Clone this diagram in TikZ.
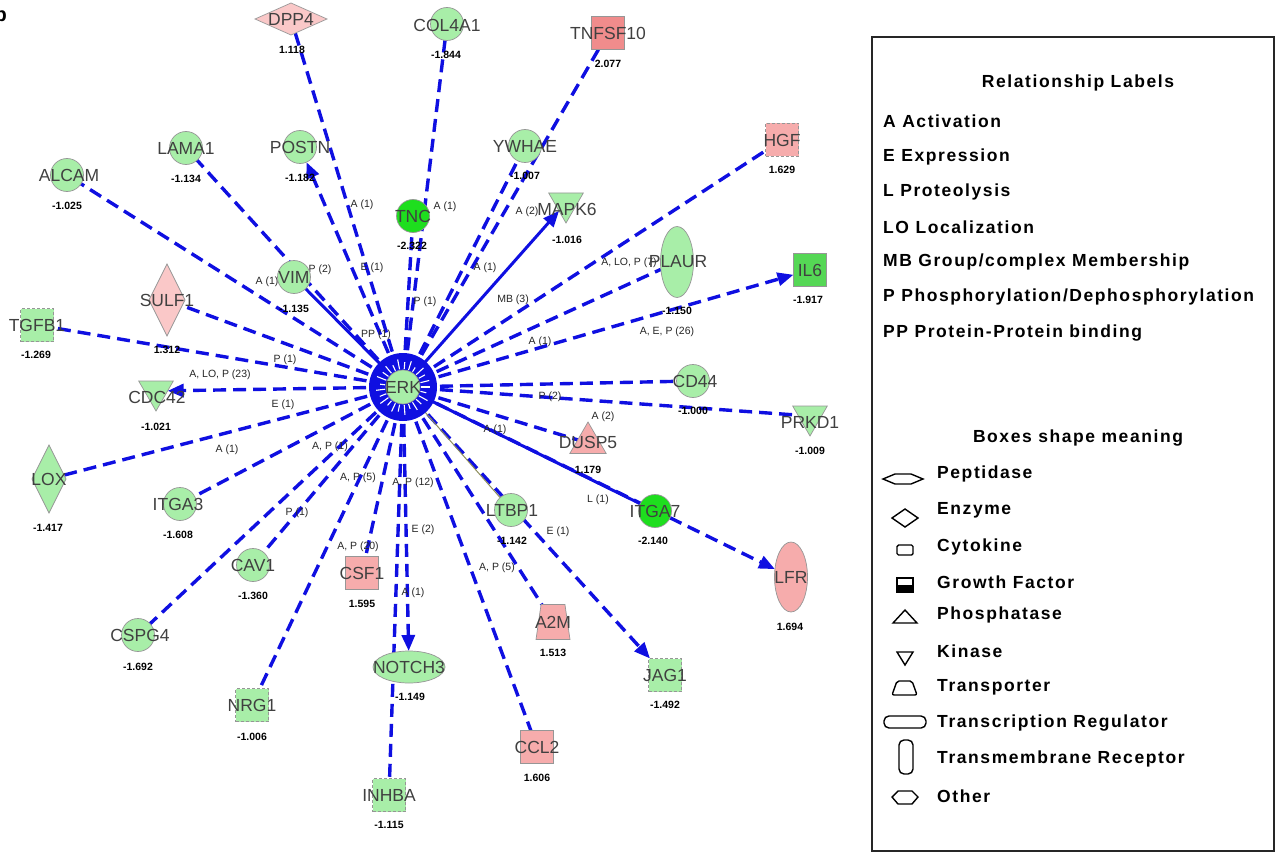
\documentclass[tikz,border=0pt]{standalone}
\usepackage{fontspec}
\setmainfont{Liberation Sans}
\newfontfamily\legfont[LetterSpace=9]{Liberation Sans}
\usetikzlibrary{arrows.meta,shapes.geometric}
\pgfdeclarelayer{edges}
\pgfsetlayers{edges,main}
\definecolor{eblue}{RGB}{15,15,225}
\definecolor{lgreen}{RGB}{168,238,168}
\definecolor{bgreen}{RGB}{30,222,30}
\definecolor{mgreen}{RGB}{85,215,85}
\definecolor{pinkA}{RGB}{250,200,200}
\definecolor{pinkB}{RGB}{246,172,172}
\definecolor{pinkC}{RGB}{240,140,140}
\definecolor{lblgray}{RGB}{64,64,64}
\definecolor{bord}{RGB}{150,150,150}
\definecolor{olivel}{RGB}{140,140,90}
\tikzset{
  gshape/.style={draw=bord, line width=0.7pt, inner sep=0pt, outer sep=0pt},
  circ/.style={gshape, circle, minimum size=33pt},
  sq/.style={gshape, rectangle, minimum width=33pt, minimum height=33pt},
  sqd/.style={sq, densely dashed},
  kin/.style={gshape, regular polygon, regular polygon sides=3, shape border rotate=180, minimum size=40pt},
  phos/.style={gshape, regular polygon, regular polygon sides=3, minimum size=42pt},
  transp/.style={gshape, trapezium, inner sep=2pt, trapezium left angle=78, trapezium right angle=78, trapezium stretches=true, minimum width=34pt, minimum height=35pt},
  ell/.style={gshape, ellipse},
  dia/.style={gshape, diamond},
  lbl/.style={font=\fontsize{17.5}{17.5}\selectfont, text=lblgray, inner sep=0pt},
  val/.style={font=\bfseries\fontsize{10.5}{11}\selectfont, inner sep=0pt},
  elbl/.style={font=\fontsize{10.5}{10.5}\selectfont, text=black!85, inner sep=0pt},
  rel/.style={draw=eblue, line width=3.4pt, dash pattern=on 13pt off 7pt},
  relsolid/.style={draw=eblue, line width=3pt},
  arr/.style={-{Triangle[length=16pt,width=13pt]}},
  legt/.style={font=\legfont\bfseries\fontsize{17.5}{17.5}\selectfont, inner sep=0pt, anchor=west},
  legh/.style={font=\legfont\bfseries\fontsize{17.5}{17.5}\selectfont, inner sep=0pt},
  legs/.style={draw=black, line width=1.4pt}
}
\begin{document}
\begin{tikzpicture}[x=1pt,y=-1pt]
\useasboundingbox (0,0) rectangle (1276,853);
\node[font=\bfseries\fontsize{20}{20}\selectfont, anchor=east, inner sep=0pt] (panel) at (7,14) {b};

% ERK hub
\coordinate (ERKc) at (403,387);
\fill[eblue] (ERKc) circle[radius=34pt];
\foreach \a/\r in {0/27,14/24,29/28,43/25,58/27,72/23,86/28,101/25,115/27,130/24,144/28,158/25,173/27,187/23,202/28,216/25,230/27,245/24,259/28,274/25,288/27,302/23,317/28,331/25,346/27}
  \draw[white, line width=1.1pt, shift={(ERKc)}] (\a:18) -- (\a:\r);
\node[circ, fill=lgreen, minimum size=34pt] (ERK) at (ERKc) {};
\node[lbl] (ERK-t) at (ERK) {ERK};

% genes
\node[dia, fill=pinkA, minimum width=72pt, minimum height=32pt] (DPP4) at (291,19) {};
\node[lbl] (DPP4-t) at (DPP4) {DPP4};
\node[val] (DPP4-v) at (292,50) {1.118};

\node[circ, fill=lgreen] (COL4A1) at (447,24) {};
\node[lbl] (COL4A1-t) at (447,25) {COL4A1};
\node[val] (COL4A1-v) at (446,55) {-1.844};

\node[sq, fill=pinkC] (TNFSF10) at (608,33) {};
\node[lbl] (TNFSF10-t) at (TNFSF10) {TNFSF10};
\node[val] (TNFSF10-v) at (608,64) {2.077};

\node[sqd, fill=pinkB] (HGF) at (782,140) {};
\node[lbl] (HGF-t) at (HGF) {HGF};
\node[val] (HGF-v) at (782,170) {1.629};

\node[circ, fill=lgreen] (YWHAE) at (525,146) {};
\node[lbl] (YWHAE-t) at (YWHAE) {YWHAE};
\node[val] (YWHAE-v) at (525,176) {-1.007};

\node[circ, fill=lgreen] (POSTN) at (300,147) {};
\node[lbl] (POSTN-t) at (POSTN) {POSTN};
\node[val] (POSTN-v) at (300,178) {-1.182};

\node[circ, fill=lgreen] (LAMA1) at (186,148) {};
\node[lbl] (LAMA1-t) at (LAMA1) {LAMA1};
\node[val] (LAMA1-v) at (186,179) {-1.134};

\node[circ, fill=lgreen] (ALCAM) at (67,175) {};
\node[lbl] (ALCAM-t) at (69,175) {ALCAM};
\node[val] (ALCAM-v) at (67,206) {-1.025};

\node[circ, fill=bgreen] (TNC) at (413,216) {};
\node[lbl] (TNC-t) at (TNC) {TNC};
\node[val] (TNC-v) at (412,246) {-2.322};

\node[kin, fill=lgreen] (MAPK6) at (566,203) {};
\node[lbl] (MAPK6-t) at (567,209) {MAPK6};
\node[val] (MAPK6-v) at (567,240) {-1.016};

\node[ell, fill=lgreen, minimum width=33pt, minimum height=71pt] (PLAUR) at (677,262) {};
\node[lbl] (PLAUR-t) at (678,262) {PLAUR};
\node[val] (PLAUR-v) at (677,311) {-1.150};

\node[sq, fill=mgreen] (IL6) at (810,270) {};
\node[lbl] (IL6-t) at (IL6) {IL6};
\node[val] (IL6-v) at (808,300) {-1.917};

\node[circ, fill=lgreen] (VIM) at (294,277) {};
\node[lbl] (VIM-t) at (VIM) {VIM};
\node[val] (VIM-v) at (294,309) {-1.135};

\node[dia, fill=pinkA, minimum width=36pt, minimum height=72pt] (SULF1) at (167,300) {};
\node[lbl] (SULF1-t) at (SULF1) {SULF1};
\node[val] (SULF1-v) at (167,350) {1.312};

\node[sqd, fill=lgreen] (TGFB1) at (37,325) {};
\node[lbl] (TGFB1-t) at (TGFB1) {TGFB1};
\node[val] (TGFB1-v) at (36,355) {-1.269};

\node[kin, fill=lgreen] (CDC42) at (156,391) {};
\node[lbl] (CDC42-t) at (157,397) {CDC42};
\node[val] (CDC42-v) at (156,427) {-1.021};

\node[circ, fill=lgreen] (CD44) at (693,381) {};
\node[lbl] (CD44-t) at (695,381) {CD44};
\node[val] (CD44-v) at (693,411) {-1.000};

\node[kin, fill=lgreen] (PRKD1) at (810,416) {};
\node[lbl] (PRKD1-t) at (810,422) {PRKD1};
\node[val] (PRKD1-v) at (810,451) {-1.009};

\node[phos, fill=pinkB] (DUSP5) at (588,443) {};
\node[lbl] (DUSP5-t) at (588,442) {DUSP5};
\node[val] (DUSP5-v) at (588,470) {1.179};

\node[dia, fill=lgreen, minimum width=34pt, minimum height=68pt] (LOX) at (49,479) {};
\node[lbl] (LOX-t) at (LOX) {LOX};
\node[val] (LOX-v) at (48,528) {-1.417};

\node[circ, fill=lgreen] (ITGA3) at (180,504) {};
\node[lbl] (ITGA3-t) at (178,504) {ITGA3};
\node[val] (ITGA3-v) at (178,535) {-1.608};

\node[circ, fill=lgreen] (LTBP1) at (511,510) {};
\node[lbl] (LTBP1-t) at (512,510) {LTBP1};
\node[val] (LTBP1-v) at (512,541) {-1.142};

\node[circ, fill=bgreen] (ITGA7) at (655,511) {};
\node[lbl] (ITGA7-t) at (ITGA7) {ITGA7};
\node[val] (ITGA7-v) at (653,541) {-2.140};

\node[circ, fill=lgreen] (CAV1) at (253,565) {};
\node[lbl] (CAV1-t) at (CAV1) {CAV1};
\node[val] (CAV1-v) at (253,596) {-1.360};

\node[sq, fill=pinkB] (CSF1) at (362,573) {};
\node[lbl] (CSF1-t) at (CSF1) {CSF1};
\node[val] (CSF1-v) at (362,604) {1.595};

\node[transp, fill=pinkB] (A2M) at (553,622) {};
\node[lbl] (A2M-t) at (A2M) {A2M};
\node[val] (A2M-v) at (553,653) {1.513};

\node[ell, fill=pinkB, minimum width=33pt, minimum height=70pt] (LFR) at (791,577) {};
\node[lbl] (LFR-t) at (LFR) {LFR};
\node[val] (LFR-v) at (790,627) {1.694};

\node[circ, fill=lgreen] (CSPG4) at (138,635) {};
\node[lbl] (CSPG4-t) at (140,635) {CSPG4};
\node[val] (CSPG4-v) at (138,667) {-1.692};

\node[ell, fill=lgreen, minimum width=72pt, minimum height=32pt] (NOTCH3) at (409,667) {};
\node[lbl] (NOTCH3-t) at (NOTCH3) {NOTCH3};
\node[val] (NOTCH3-v) at (410,697) {-1.149};

\node[sqd, fill=lgreen] (JAG1) at (665,675) {};
\node[lbl] (JAG1-t) at (JAG1) {JAG1};
\node[val] (JAG1-v) at (665,705) {-1.492};

\node[sqd, fill=lgreen] (NRG1) at (252,705) {};
\node[lbl] (NRG1-t) at (NRG1) {NRG1};
\node[val] (NRG1-v) at (252,737) {-1.006};

\node[sq, fill=pinkB] (CCL2) at (537,747) {};
\node[lbl] (CCL2-t) at (CCL2) {CCL2};
\node[val] (CCL2-v) at (537,778) {1.606};

\node[sqd, fill=lgreen] (INHBA) at (389,795) {};
\node[lbl] (INHBA-t) at (INHBA) {INHBA};
\node[val] (INHBA-v) at (389,825) {-1.115};

% connectors and their labels, below the nodes
\begin{pgfonlayer}{edges}
\draw[rel] (ERK) -- (DPP4);
\draw[rel] (ERK) -- (COL4A1);
\draw[rel] (ERK) -- (TNFSF10);
\draw[rel, arr] (ERK) -- (POSTN);
\draw[rel] (ERK) -- (LAMA1);
\draw[rel] (ERK) -- (ALCAM);
\draw[relsolid] (ERK) -- (VIM);
\draw[rel] (ERK) -- (TNC);
\draw[rel] (ERK) -- (YWHAE);
\draw[relsolid, arr] (ERK) -- (MAPK6);
\draw[rel] (ERK) -- (HGF);
\draw[rel] (ERK) -- (PLAUR);
\draw[rel, arr] (ERK) -- (IL6);
\draw[rel] (ERK) -- (SULF1);
\draw[rel] (ERK) -- (TGFB1);
\draw[rel, arr] (ERK) -- (CDC42);
\draw[rel] (ERK) -- (LOX);
\draw[rel] (ERK) -- (ITGA3);
\draw[rel] (ERK) -- (CAV1);
\draw[rel] (ERK) -- (CSPG4);
\draw[rel] (ERK) -- (NRG1);
\draw[rel] (ERK) -- (CSF1);
\draw[rel, arr] (ERK) -- (NOTCH3);
\draw[rel] (ERK) -- (INHBA);
\draw[rel] (ERK) -- (CCL2);
\draw[rel] (ERK) -- (A2M);
\draw[rel, arr] (ERK) -- (JAG1);
\draw[olivel, line width=1pt] (ERK) -- (LTBP1);
\draw[relsolid] (ERK) -- (ITGA7);
\draw[rel, arr] (ERK) -- (LFR);
\draw[rel] (ERK) -- (CD44);
\draw[rel] (ERK) -- (PRKD1);
\draw[rel] (ERK) -- (DUSP5);

\node[elbl] (e1) at (362,205) {A (1)};
\node[elbl] (e2) at (372,268) {E (1)};
\node[elbl] (e3) at (445,207) {A (1)};
\node[elbl] (e4) at (425,302) {P (1)};
\node[elbl] (e5) at (376,335) {PP (1)};
\node[elbl] (e6) at (267,282) {A (1)};
\node[elbl] (e7) at (320,270) {P (2)};
\node[elbl] (e8) at (485,268) {A (1)};
\node[elbl] (e9) at (513,300) {MB (3)};
\node[elbl] (e10) at (527,212) {A (2)};
\node[elbl] (e11) at (629,263) {A, LO, P (7)};
\node[elbl] (e12) at (540,342) {A (1)};
\node[elbl] (e13) at (667,332) {A, E, P (26)};
\node[elbl] (e14) at (285,360) {P (1)};
\node[elbl] (e15) at (220,375) {A, LO, P (23)};
\node[elbl] (e16) at (283,405) {E (1)};
\node[elbl] (e17) at (227,450) {A (1)};
\node[elbl] (e18) at (330,447) {A, P (1)};
\node[elbl] (e19) at (358,478) {A, P (5)};
\node[elbl] (e20) at (413,483) {A, P (12)};
\node[elbl] (e21) at (297,513) {P (1)};
\node[elbl] (e22) at (358,547) {A, P (20)};
\node[elbl] (e23) at (423,530) {E (2)};
\node[elbl] (e24) at (413,593) {A (1)};
\node[elbl] (e25) at (497,568) {A, P (5)};
\node[elbl] (e26) at (558,532) {E (1)};
\node[elbl] (e27) at (550,397) {P (2)};
\node[elbl] (e28) at (603,417) {A (2)};
\node[elbl] (e29) at (495,430) {A (1)};
\node[elbl] (e30) at (598,500) {L (1)};
\end{pgfonlayer}

% legend
\draw[line width=1.5pt, black!85] (872,37) rectangle (1274,851);
\node[legh] (relhead) at (1078,83) {Relationship Labels};
\node[legt] (r1) at (883,121) {A Activation};
\node[legt] (r2) at (883,157) {E Expression};
\node[legt] (r3) at (883,192) {L Proteolysis};
\node[legt] (r4) at (883,227) {LO Localization};
\node[legt] (r5) at (883,262) {MB Group/complex Membership};
\node[legt] (r6) at (883,297) {P Phosphorylation/Dephosphorylation};
\node[legt] (r7) at (883,333) {PP Protein-Protein binding};

\node[legh] (boxhead) at (1078,438) {Boxes shape meaning};
\node[legt] (b1) at (937,474) {Peptidase};
\node[legt] (b2) at (937,510) {Enzyme};
\node[legt] (b3) at (937,547) {Cytokine};
\node[legt] (b4) at (937,582) {Growth Factor};
\node[legt] (b5) at (937,615) {Phosphatase};
\node[legt] (b6) at (937,651) {Kinase};
\node[legt] (b7) at (937,687) {Transporter};
\node[legt] (b8) at (937,723) {Transcription Regulator};
\node[legt] (b9) at (937,759) {Transmembrane Receptor};
\node[legt] (b10) at (937,796) {Other};

\draw[legs] (883,479) -- (895,474) -- (911,474) -- (923,479) -- (911,484) -- (895,484) -- cycle;
\draw[legs] (892,518) -- (905,509) -- (918,518) -- (905,527) -- cycle;
\draw[legs, rounded corners=1.5pt] (897,545) rectangle (913,555);
\fill[black] (897,585) rectangle (913,592);
\draw[legs] (897,578) rectangle (913,592);
\draw[legs] (893,623) -- (905,610) -- (917,623) -- cycle;
\draw[legs] (897,652) -- (913,652) -- (905,665) -- cycle;
\draw[legs, rounded corners=2pt] (892,695) -- (897,681) -- (912,681) -- (917,695) -- cycle;
\draw[legs, rounded corners=5pt] (884,716) rectangle (926,728);
\draw[legs, rounded corners=5pt] (899,740) rectangle (913,774);
\draw[legs] (892,797) -- (898,791) -- (912,791) -- (918,797) -- (912,804) -- (898,804) -- cycle;
\end{tikzpicture}
\end{document}
